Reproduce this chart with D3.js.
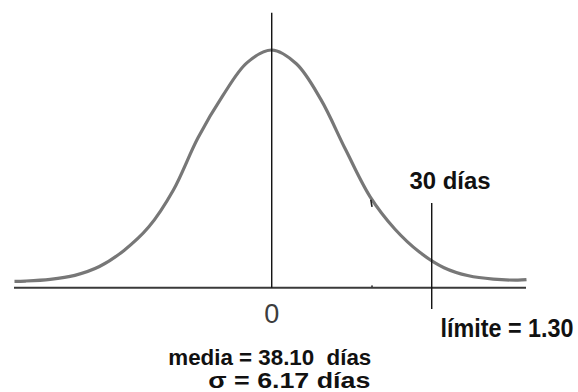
<!DOCTYPE html>
<html>
<head>
<meta charset="utf-8">
<script src="https://cdn.jsdelivr.net/npm/d3@7"></script>
<style>
  html, body { margin: 0; padding: 0; background: #fff; }
  svg { display: block; }
  text { font-family: "Liberation Sans", Arial, sans-serif; white-space: pre; }
</style>
</head>
<body>
<div id="chart"></div>
<script>
// z positions (standard units) of the curve points
const curveZ = [-2.09, -2.0, -1.8, -1.6, -1.4, -1.2, -1.0, -0.8, -0.6, -0.4, -0.2, 0,
                0.2, 0.4, 0.6, 0.8, 1.0, 1.2, 1.4, 1.6, 1.8, 2.0, 2.07];
// relative height of the curve (peak = 1)
const curveH = [0.027, 0.028, 0.035, 0.052, 0.089, 0.157, 0.255, 0.41, 0.63, 0.806, 0.947, 1.0,
                0.942, 0.791, 0.581, 0.382, 0.247, 0.150, 0.084, 0.050, 0.036, 0.032, 0.034];
const axisDomain = [-2.094, 2.066];
const centerZ = 0;
const limitZ = 1.30;
const tickLabel = "0";
const limitLabel = "límite = 1.30";
const daysLabel = "30 días";
const meanLabel = "media = 38.10  días";
const sigmaLabel = "σ = 6.17 días";

const W = 578, H = 392;
const svg = d3.select("#chart").append("svg").attr("width", W).attr("height", H);

const x = d3.scaleLinear().domain(axisDomain).range([14, 526]);
const y = d3.scaleLinear().domain([0, 1]).range([287.7, 50]);

const pts = curveZ.map((z, i) => [z, curveH[i]]);

// axis baseline
svg.append("line")
  .attr("x1", x(axisDomain[0])).attr("x2", x(axisDomain[1]))
  .attr("y1", y(0)).attr("y2", y(0))
  .attr("stroke", "#3a3a3a").attr("stroke-width", 2);

// curve
const line = d3.line().x(d => x(d[0])).y(d => y(d[1])).curve(d3.curveCatmullRom.alpha(0.5));
svg.append("path").datum(pts)
  .attr("d", line)
  .attr("fill", "none").attr("stroke", "#777").attr("stroke-width", 3.2);

// central vertical line
svg.append("line")
  .attr("x1", x(centerZ)).attr("x2", x(centerZ))
  .attr("y1", y(1.157)).attr("y2", y(0))
  .attr("stroke", "#111").attr("stroke-width", 1.4);

// limit line
svg.append("line")
  .attr("x1", x(limitZ)).attr("x2", x(limitZ))
  .attr("y1", y(0.356)).attr("y2", y(-0.09))
  .attr("stroke", "#111").attr("stroke-width", 1.4);

// small artifacts on the curve / axis
svg.append("line")
  .attr("x1", x(0.805)).attr("x2", x(0.815))
  .attr("y1", y(0.37)).attr("y2", y(0.34))
  .attr("stroke", "#222").attr("stroke-width", 1.6);
svg.append("circle").attr("cx", x(0.815)).attr("cy", y(0) - 1.5).attr("r", 1).attr("fill", "#444");

// labels
function label(txt, px, py, size, width, sy, opts = {}) {
  const g = svg.append("g").attr("transform", `translate(${px},${py}) scale(1,${sy})`);
  const t = g.append("text")
    .attr("x", 0).attr("y", 0)
    .attr("font-size", size)
    .attr("font-weight", opts.weight || "bold")
    .attr("fill", opts.fill || "#111")
    .attr("text-anchor", opts.anchor || "start")
    .text(txt);
  if (width) t.attr("textLength", width).attr("lengthAdjust", "spacingAndGlyphs");
  return t;
}

label(tickLabel, x(centerZ), 323, 27, null, 1, { weight: "normal", fill: "#3d3d3d", anchor: "middle" });
label(daysLabel, 409.5, 189, 23.5, 81, 1);
label(limitLabel, 440.5, 337, 23.2, 133, 1.13);
label(meanLabel, 168.3, 365, 22, 203, 1);
label(sigmaLabel, 208.3, 388, 22, 162, 1);
</script>
</body>
</html>
